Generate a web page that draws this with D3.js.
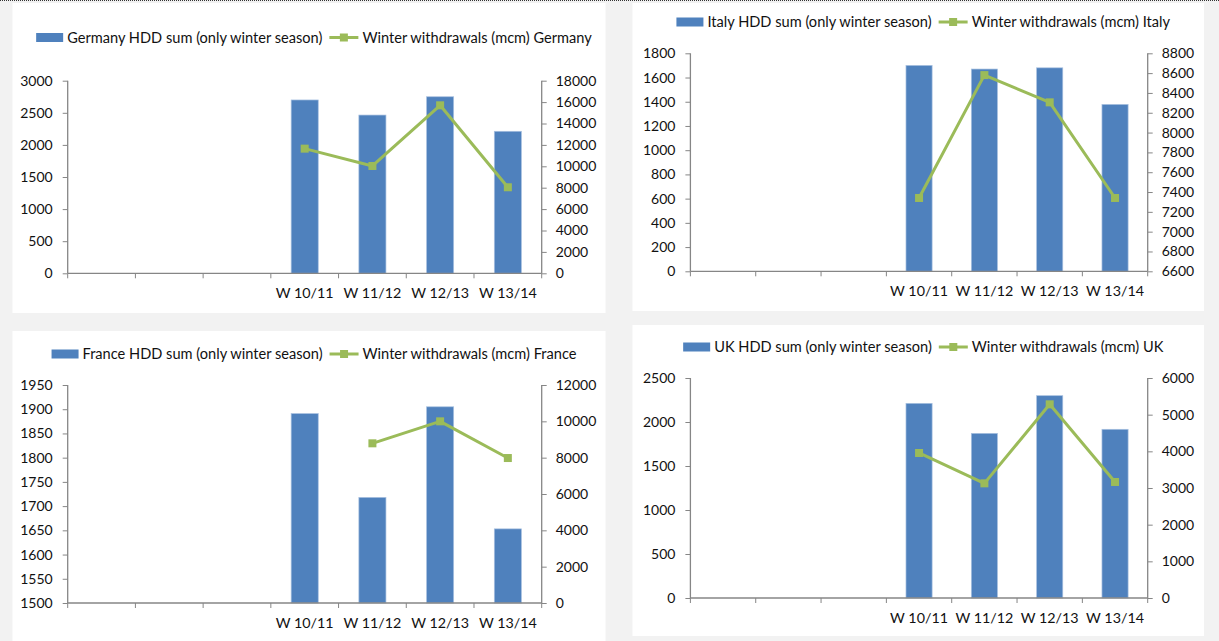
<!DOCTYPE html>
<html>
<head>
<meta charset="utf-8">
<script src="https://cdn.jsdelivr.net/npm/d3@7"></script>
<style>
  html, body { margin: 0; padding: 0; background: #f2f2f2; }
  svg { display: block; }
  text { font-family: Lato, "Liberation Sans", sans-serif; fill: #111; }
</style>
</head>
<body>
<svg id="chart" width="1219" height="641"></svg>
<script>
// Winter seasons (first three slots of the category axis are empty)
const categories = ["", "", "", "W 10/11", "W 11/12", "W 12/13", "W 13/14"];

// Heating degree days, winter season sum
const germanyHdd = [null, null, null, 2700, 2465, 2750, 2212];
const italyHdd   = [null, null, null, 1700, 1670, 1680, 1378];
const franceHdd  = [null, null, null, 1891, 1718, 1905, 1653];
const ukHdd      = [null, null, null, 2212, 1871, 2299, 1917];

// Winter storage withdrawals (mcm)
const germanyWithdrawals = [null, null, null, 11650, 10030, 15700, 8040];
const italyWithdrawals   = [null, null, null, 7340, 8580, 8305, 7340];
const franceWithdrawals  = [null, null, null, null, 8790, 10000, 7980];
const ukWithdrawals      = [null, null, null, 3955, 3127, 5282, 3164];

// Axis tick values
const germanyLeftTicks  = d3.range(0, 3001, 500);
const germanyRightTicks = d3.range(0, 18001, 2000);
const italyLeftTicks    = d3.range(0, 1801, 200);
const italyRightTicks   = d3.range(6600, 8801, 200);
const franceLeftTicks   = d3.range(1500, 1951, 50);
const franceRightTicks  = d3.range(0, 12001, 2000);
const ukLeftTicks       = d3.range(0, 2501, 500);
const ukRightTicks      = d3.range(0, 6001, 1000);

const BAR = "#4f81bd", LINE = "#9bbb59", AXIS = "#868686";

const panels = [
  { country: "Germany", hdd: germanyHdd, wd: germanyWithdrawals,
    lt: germanyLeftTicks, rt: germanyRightTicks,
    box: [12.5, 3, 605.5, 313], plot: [67.7, 80.7, 541.7, 273.3], legendY: 37.5 },
  { country: "Italy", hdd: italyHdd, wd: italyWithdrawals,
    lt: italyLeftTicks, rt: italyRightTicks,
    box: [632.5, 3, 1204, 311], plot: [690.4, 53.3, 1147.7, 271.3], legendY: 22 },
  { country: "France", hdd: franceHdd, wd: franceWithdrawals,
    lt: franceLeftTicks, rt: franceRightTicks,
    box: [12.5, 331, 605.5, 641], plot: [67.7, 385, 541.7, 603], legendY: 354 },
  { country: "UK", hdd: ukHdd, wd: ukWithdrawals,
    lt: ukLeftTicks, rt: ukRightTicks,
    box: [632.5, 325, 1204, 636], plot: [690.4, 378, 1147.7, 598], legendY: 347 }
];

const svg = d3.select("#chart");

// dotted rule along the top edge
svg.append("line")
  .attr("x1", 0).attr("x2", 1219).attr("y1", 0.5).attr("y2", 0.5)
  .attr("stroke", "#333").attr("stroke-dasharray", "1,1");

panels.forEach(p => {
  const [bx0, by0, bx1, by1] = p.box;
  const [x0, y0, x1, y1] = p.plot;

  svg.append("rect")
    .attr("x", bx0).attr("y", by0)
    .attr("width", bx1 - bx0).attr("height", by1 - by0)
    .attr("fill", "#fff");

  const g = svg.append("g");

  const idx = d3.range(categories.length);
  const band = d3.scaleBand().domain(idx).range([x0, x1]);
  const yL = d3.scaleLinear().domain(d3.extent(p.lt)).range([y1, y0]);
  const yR = d3.scaleLinear().domain(d3.extent(p.rt)).range([y1, y0]);

  // bars
  g.selectAll("rect.bar")
    .data(idx.filter(i => p.hdd[i] != null))
    .join("rect")
    .attr("class", "bar")
    .attr("x", i => band(i) + band.bandwidth() * 0.3)
    .attr("width", band.bandwidth() * 0.4)
    .attr("y", i => yL(p.hdd[i]))
    .attr("height", i => yL.range()[0] - yL(p.hdd[i]))
    .attr("fill", BAR)
    .attr("stroke", "#a9c1e0").attr("stroke-width", 0.7);

  // left axis
  const leftAxis = d3.axisLeft(yL).tickValues(p.lt).tickSize(5).tickPadding(10)
    .tickFormat(d3.format("d"));
  const la = g.append("g").attr("transform", `translate(${x0},0)`).call(leftAxis);

  // right axis
  const rightAxis = d3.axisRight(yR).tickValues(p.rt).tickSize(5).tickPadding(9)
    .tickFormat(d3.format("d"));
  const ra = g.append("g").attr("transform", `translate(${x1},0)`).call(rightAxis);

  // category axis with ticks on band edges
  const xa = g.append("g").attr("transform", `translate(0,${y1})`);
  xa.append("line").attr("x1", x0).attr("x2", x1).attr("stroke", AXIS).attr("stroke-width", 1.3);
  const edges = idx.map(i => band(i)).concat([x1]);
  xa.selectAll("line.tk").data(edges).join("line").attr("class", "tk")
    .attr("x1", d => d).attr("x2", d => d).attr("y1", 0).attr("y2", 5)
    .attr("stroke", AXIS);
  xa.selectAll("text").data(idx).join("text")
    .attr("x", i => band(i) + band.bandwidth() / 2)
    .attr("y", 20).attr("dy", "0.35em")
    .attr("text-anchor", "middle")
    .style("font-size", "14.3px")
    .text(i => categories[i]);

  [la, ra].forEach(a => {
    a.select(".domain").attr("stroke", AXIS).attr("stroke-width", 1.3);
    a.selectAll(".tick line").attr("stroke", AXIS);
    a.selectAll(".tick text").style("font-size", "14px").attr("fill", "#111");
  });
  la.select(".domain").attr("d", `M0,${y1}V${y0}`);
  ra.select(".domain").attr("d", `M0,${y1}V${y0}`);

  // withdrawals line with square markers
  const cx = i => band(i) + band.bandwidth() / 2;
  const line = d3.line().defined(i => p.wd[i] != null).x(cx).y(i => yR(p.wd[i]));
  g.append("path").datum(idx).attr("d", line)
    .attr("fill", "none").attr("stroke", LINE).attr("stroke-width", 3)
    .attr("stroke-linejoin", "round");
  g.selectAll("rect.mk").data(idx.filter(i => p.wd[i] != null)).join("rect")
    .attr("class", "mk")
    .attr("x", i => cx(i) - 4).attr("y", i => yR(p.wd[i]) - 4)
    .attr("width", 8).attr("height", 8).attr("fill", LINE);

  // legend
  const lg = svg.append("g");
  const t1 = `${p.country} HDD sum (only winter season)`;
  const t2 = `Winter withdrawals (mcm) ${p.country}`;
  const sw = lg.append("rect").attr("width", 27).attr("height", 9).attr("fill", BAR);
  const tx1 = lg.append("text").text(t1).style("font-size", "14.6px").attr("dy", "0.35em");
  const w1 = tx1.node().getComputedTextLength();
  const ls = lg.append("g");
  ls.append("line").attr("x1", 0).attr("x2", 29).attr("stroke", LINE).attr("stroke-width", 3);
  ls.append("rect").attr("x", 10.5).attr("y", -4).attr("width", 8).attr("height", 8).attr("fill", LINE);
  const tx2 = lg.append("text").text(t2).style("font-size", "14.6px").attr("dy", "0.35em");
  const w2 = tx2.node().getComputedTextLength();
  const total = 27 + 4 + w1 + 7 + 29 + 4 + w2;
  const start = (bx0 + bx1) / 2 + 5 - total / 2;
  const ly = p.legendY;
  sw.attr("x", start).attr("y", ly - 4.5);
  tx1.attr("x", start + 31).attr("y", ly);
  ls.attr("transform", `translate(${start + 31 + w1 + 7},${ly})`);
  tx2.attr("x", start + 31 + w1 + 7 + 29 + 4).attr("y", ly);
});
</script>
</body>
</html>
